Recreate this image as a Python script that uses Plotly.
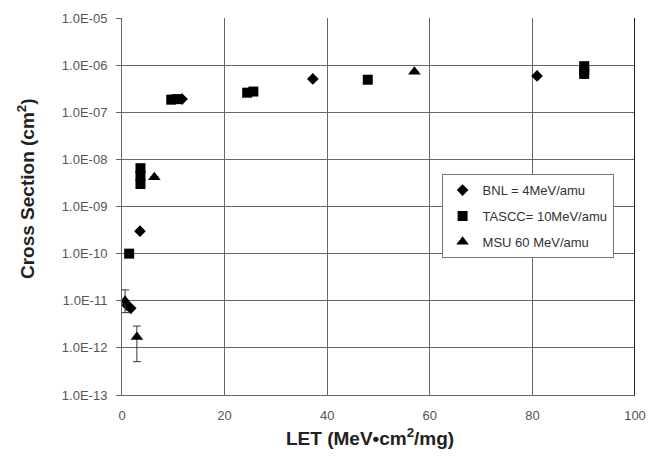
import plotly.graph_objects as go

# LET (MeV·cm²/mg) and measured cross sections (cm²) for each beam facility
bnl_let = [11.7, 37.2, 80.9, 3.5, 1.0, 1.7]
bnl_xs = [1.9e-7, 5.1e-7, 5.9e-7, 3.0e-10, 8.0e-12, 6.9e-12]

tascc_let = [9.6, 10.6, 24.4, 25.6, 47.9, 90.1, 90.1, 90.1, 1.4, 3.6, 3.6, 3.6]
tascc_xs = [1.85e-7, 1.9e-7, 2.6e-7, 2.75e-7, 4.9e-7, 9.5e-7, 7.9e-7, 6.5e-7,
            1.0e-10, 6.5e-9, 4.5e-9, 3.0e-9]

msu_let = [57.0, 6.3, 0.6, 2.9]
msu_xs = [7.2e-7, 4.2e-9, 1.0e-11, 1.7e-12]
msu_err_plus = [0, 0, 0.7e-11, 1.2e-12]
msu_err_minus = [0, 0, 0.44e-11, 1.19e-12]

x_ticks = [0, 20, 40, 60, 80, 100]
y_ticks = [1e-5, 1e-6, 1e-7, 1e-8, 1e-9, 1e-10, 1e-11, 1e-12, 1e-13]
y_tick_text = ["1.0E-05", "1.0E-06", "1.0E-07", "1.0E-08", "1.0E-09",
               "1.0E-10", "1.0E-11", "1.0E-12", "1.0E-13"]

font = "Liberation Sans, Arial, sans-serif"

fig = go.Figure()
fig.add_trace(go.Scatter(
    x=bnl_let, y=bnl_xs, mode="markers", name="BNL = 4MeV/amu",
    legendgroup="a",
    marker=dict(symbol="diamond", size=9, color="black"),
))
fig.add_trace(go.Scatter(
    x=tascc_let, y=tascc_xs, mode="markers", name="TASCC= 10MeV/amu",
    legendgroup="b",
    marker=dict(symbol="square", size=10, color="black"),
))
fig.add_trace(go.Scatter(
    x=msu_let, y=msu_xs, mode="markers", name="MSU 60 MeV/amu",
    legendgroup="c",
    marker=dict(symbol="triangle-up", size=11, color="black"),
    error_y=dict(type="data", symmetric=False, array=msu_err_plus,
                 arrayminus=msu_err_minus, color="#333", thickness=1, width=4),
))

fig.update_layout(
    width=657, height=459,
    margin=dict(l=122, r=21, t=11, b=64),
    paper_bgcolor="white", plot_bgcolor="white",
    font=dict(family=font, color="#222"),
    showlegend=True,
    legend=dict(
        x=0.623, y=0.586, xanchor="left", yanchor="top",
        bordercolor="#777", borderwidth=1, bgcolor="white",
        font=dict(size=13, color="#333", family=font),
        tracegroupgap=6, traceorder="grouped",
        itemwidth=30,
    ),
    xaxis=dict(
        range=[0, 100], tickvals=x_ticks, ticks="",
        showgrid=True, gridcolor="#666", gridwidth=1,
        showline=True, linecolor="#666", mirror=False,
        zeroline=False, ticklabelstandoff=8,
        tickfont=dict(size=13, color="#555"),
    ),
    yaxis=dict(
        type="log", range=[-13, -5], tickvals=y_ticks, ticktext=y_tick_text,
        ticks="outside", ticklen=5, tickcolor="#666",
        showgrid=True, gridcolor="#666", gridwidth=1,
        showline=True, linecolor="#666",
        zeroline=False, ticklabelstandoff=6,
        tickfont=dict(size=13, color="#555"),
    ),
    annotations=[
        dict(text="<b>LET (MeV•cm<sup>2</sup>/mg)</b>", xref="paper", yref="paper",
             x=(370 - 122) / 514, y=-(438 - 395) / 384, xanchor="center",
             yanchor="middle", showarrow=False,
             font=dict(size=19, color="#222", family=font)),
        dict(text="<b>Cross Section (cm<sup>2</sup>)</b>", xref="paper", yref="paper",
             x=-(122 - 26) / 514, y=(395 - 185) / 384, xanchor="center",
             yanchor="middle", textangle=-90, showarrow=False,
             font=dict(size=19, color="#222", family=font)),
    ],
)

# dark right-hand frame edge at LET = 100
fig.add_shape(type="line", xref="x", yref="paper", x0=100, x1=100, y0=0, y1=1,
              line=dict(color="#222", width=2))

fig.write_html("out.html")
